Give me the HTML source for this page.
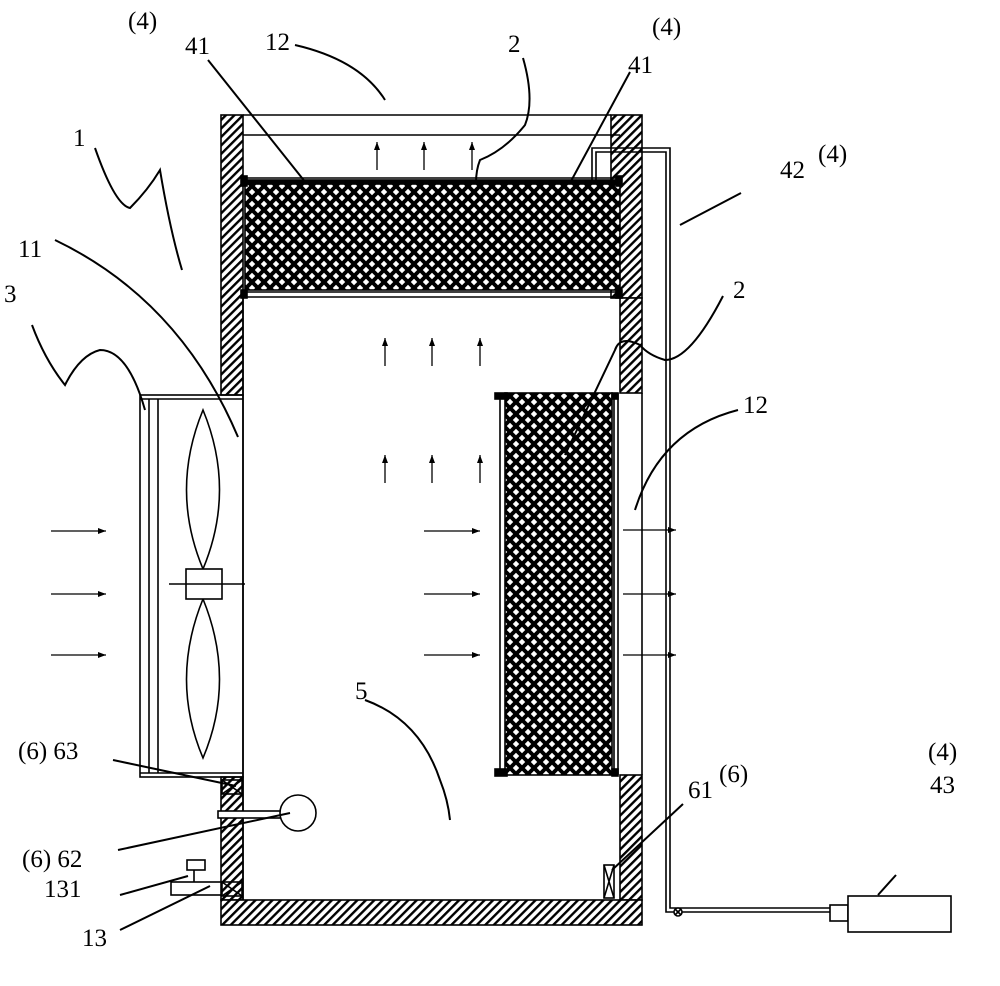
<!DOCTYPE html>
<html><head><meta charset="utf-8"><style>
html,body{margin:0;padding:0;background:#fff;}
svg text{font-family:"Liberation Serif",serif;font-size:25px;fill:#000;}
</style></head><body>
<svg width="1000" height="981" viewBox="0 0 1000 981" xmlns="http://www.w3.org/2000/svg">
<defs>
<pattern id="h" width="6" height="6" patternUnits="userSpaceOnUse" patternTransform="rotate(45)">
<rect width="6" height="6" fill="#fff"/><rect width="2.4" height="6" fill="#000"/>
</pattern>
<pattern id="m" width="12" height="12" patternUnits="userSpaceOnUse">
<rect width="12" height="12" fill="#000"/>
<polygon points="6,2.8 9.2,6 6,9.2 2.8,6" fill="#fff"/>
<polygon points="0,-3.2 3.2,0 0,3.2 -3.2,0" fill="#fff"/>
<polygon points="12,-3.2 15.2,0 12,3.2 8.8,0" fill="#fff"/>
<polygon points="0,8.8 3.2,12 0,15.2 -3.2,12" fill="#fff"/>
<polygon points="12,8.8 15.2,12 12,15.2 8.8,12" fill="#fff"/>
</pattern>
<marker id="a" markerWidth="8" markerHeight="6" refX="8" refY="3" orient="auto" markerUnits="userSpaceOnUse">
<path d="M0,0 L8,3 L0,6 Z" fill="#000"/></marker>
</defs>
<g stroke="#000" fill="none" stroke-width="1.6">
<rect x="221" y="115" width="22" height="280" fill="url(#h)"/>
<rect x="611" y="115" width="31" height="183" fill="url(#h)"/>
<rect x="620" y="298" width="22" height="95" fill="url(#h)"/>
<rect x="221" y="777" width="22" height="123" fill="url(#h)"/>
<rect x="620" y="775" width="22" height="125" fill="url(#h)"/>
<rect x="221" y="900" width="421" height="25" fill="url(#h)"/>
<line x1="243" y1="115" x2="611" y2="115"/>
<line x1="243" y1="135" x2="620" y2="135"/>
<line x1="243" y1="298" x2="243" y2="900"/>
<line x1="642" y1="393" x2="642" y2="775"/>
<rect x="243" y="180" width="377" height="4" fill="#000"/>
<rect x="245" y="184" width="375" height="106" fill="url(#m)"/>
<line x1="243" y1="292" x2="620" y2="292"/>
<line x1="243" y1="297" x2="620" y2="297"/>
<rect x="241" y="176" width="6" height="10" fill="#000"/>
<rect x="616" y="176" width="6" height="10" fill="#000"/>
<rect x="241" y="290" width="6" height="8" fill="#000"/>
<rect x="616" y="290" width="6" height="8" fill="#000"/>
<line x1="247" y1="178" x2="616" y2="178"/>
<rect x="505" y="393" width="107" height="382" fill="url(#m)"/>
<rect x="495" y="393" width="12" height="6" fill="#000"/>
<rect x="495" y="769" width="12" height="7" fill="#000"/>
<line x1="500" y1="399" x2="500" y2="769"/>
<line x1="614" y1="393" x2="614" y2="775"/>
<line x1="618" y1="393" x2="618" y2="775"/>
<rect x="612" y="393" width="6" height="6" fill="#000"/>
<rect x="612" y="769" width="6" height="7" fill="#000"/>
<path d="M592,180 V148 H670 V908 H848"/>
<path d="M596,180 V152 H666 V912 H848"/>
<circle cx="678" cy="912" r="4" fill="#fff"/>
<path d="M675,909 L681,915 M681,909 L675,915"/>
<rect x="830" y="905" width="18" height="16" fill="#fff"/>
<rect x="848" y="896" width="103" height="36" fill="#fff"/>
<rect x="140" y="395" width="103" height="382"/>
<line x1="140" y1="399" x2="243" y2="399"/>
<line x1="140" y1="773" x2="243" y2="773"/>
<line x1="149" y1="399" x2="149" y2="773"/>
<line x1="158" y1="399" x2="158" y2="773"/>
<path d="M203,410 Q170,490 203,569 Q236,490 203,410 Z"/>
<path d="M203,599 Q170,680 203,758 Q236,680 203,599 Z"/>
<rect x="186" y="569" width="36" height="30" fill="#fff"/>
<line x1="169" y1="584" x2="245" y2="584"/>
<rect x="222" y="780" width="20" height="14"/>
<path d="M222,780 L242,794 M242,780 L222,794"/>
<rect x="218" y="811" width="63" height="7" fill="#fff"/>
<circle cx="298" cy="813" r="18" fill="#fff"/>
<rect x="171" y="882" width="50" height="13" fill="#fff"/>
<rect x="187" y="860" width="18" height="10"/>
<line x1="194" y1="870" x2="194" y2="882"/>
<rect x="222" y="882" width="20" height="14"/>
<path d="M222,882 L242,896 M242,882 L222,896"/>
<rect x="604" y="865" width="10" height="33" fill="#fff"/>
<path d="M604,865 L614,898 M614,865 L604,898"/>
<g marker-end="url(#a)" stroke-width="1.3">
<line x1="377" y1="170" x2="377" y2="142"/><line x1="424" y1="170" x2="424" y2="142"/><line x1="472" y1="170" x2="472" y2="142"/>
<line x1="385" y1="366" x2="385" y2="338"/><line x1="432" y1="366" x2="432" y2="338"/><line x1="480" y1="366" x2="480" y2="338"/>
<line x1="385" y1="483" x2="385" y2="455"/><line x1="432" y1="483" x2="432" y2="455"/><line x1="480" y1="483" x2="480" y2="455"/>
<line x1="51" y1="531" x2="106" y2="531"/><line x1="51" y1="594" x2="106" y2="594"/><line x1="51" y1="655" x2="106" y2="655"/>
<line x1="424" y1="531" x2="480" y2="531"/><line x1="424" y1="594" x2="480" y2="594"/><line x1="424" y1="655" x2="480" y2="655"/>
<line x1="623" y1="530" x2="676" y2="530"/><line x1="623" y1="594" x2="676" y2="594"/><line x1="623" y1="655" x2="676" y2="655"/>
</g>
<g stroke-width="2">
<path d="M208,60 L306,183"/>
<path d="M295,45 Q360,60 385,100"/>
<path d="M523,58 Q535,100 525,125 Q505,150 480,160 Q476,170 476,183"/>
<path d="M630,72 L570,183"/>
<path d="M741,193 L680,225"/>
<path d="M95,148 Q115,205 130,208 Q148,190 160,170 Q170,230 182,270"/>
<path d="M55,240 Q180,300 238,437"/>
<path d="M32,325 Q45,360 65,385 Q80,355 100,350 Q128,350 145,410"/>
<path d="M723,296 Q690,360 665,360 Q648,355 640,345 Q620,335 615,350 L565,455"/>
<path d="M738,410 Q660,430 635,510"/>
<path d="M365,700 Q420,720 440,780 Q448,800 450,820"/>
<path d="M113,760 L236,786"/>
<path d="M118,850 L290,813"/>
<path d="M120,895 L188,876"/>
<path d="M120,930 L210,886"/>
<path d="M683,804 L612,870"/>
<path d="M896,875 L878,895"/>
</g>
</g>
<text x="128" y="29">(4)</text><text x="185" y="54">41</text>
<text x="265" y="50">12</text>
<text x="508" y="52">2</text>
<text x="628" y="73">41</text><text x="652" y="35">(4)</text>
<text x="780" y="178">42</text><text x="818" y="162">(4)</text>
<text x="73" y="146">1</text>
<text x="18" y="257">11</text>
<text x="4" y="302">3</text>
<text x="733" y="298">2</text>
<text x="743" y="413">12</text>
<text x="355" y="699">5</text>
<text x="18" y="759">(6) 63</text>
<text x="22" y="867">(6) 62</text>
<text x="44" y="897">131</text>
<text x="82" y="946">13</text>
<text x="688" y="798">61</text><text x="719" y="782">(6)</text>
<text x="928" y="760">(4)</text>
<text x="930" y="793">43</text>
</svg>
</body></html>
